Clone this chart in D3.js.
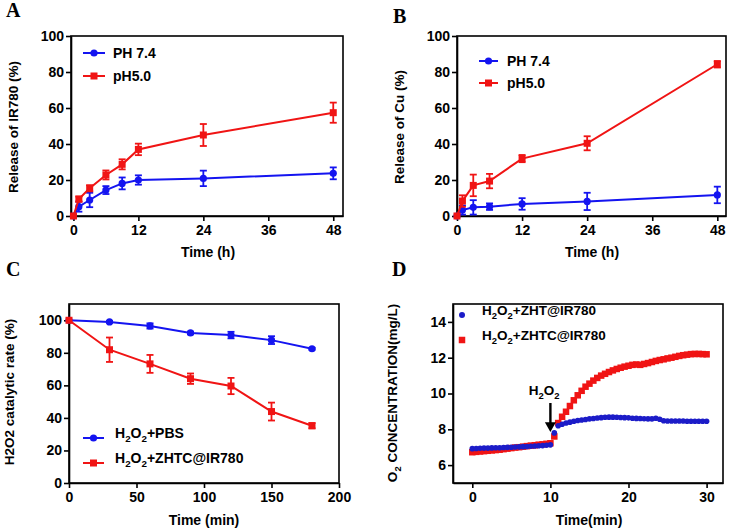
<!DOCTYPE html>
<html><head><meta charset="utf-8">
<script src="https://cdn.jsdelivr.net/npm/d3@7"></script>
<style>
body{margin:0;background:#fff}
text{font-family:"Liberation Sans",Arial,sans-serif;font-weight:bold;fill:#000}
</style>
</head><body>
<svg id="chart" width="729" height="529" xmlns="http://www.w3.org/2000/svg"></svg>
<script>
// ---------- DATA ----------
const timeA = [0, 1, 3, 6, 9, 12, 24, 48];
const irPH74 = [0, 5.2, 8.9, 14.4, 18.1, 20, 20.9, 23.7];
const irPH74Err = [0, 2.8, 4, 2.2, 3.3, 2.6, 4.3, 3.3];
const irPH50 = [0, 9.4, 15.4, 22.8, 28.7, 37, 45, 57.4];
const irPH50Err = [0, 1.4, 1.7, 2.5, 2.8, 3.2, 6.1, 5.6];

const timeB = [0, 1, 3, 6, 12, 24, 48];
const cuPH74 = [0, 3.3, 4.8, 5.2, 6.7, 8.1, 11.7];
const cuPH74Err = [0, 2.5, 4, 1.8, 3.2, 4.8, 4.6];
const cuPH50 = [0, 8.3, 17, 19.4, 31.9, 40.4, 84.3];
const cuPH50Err = [0, 3.2, 6, 4, 2, 3.9, 1.8];

const timeC = [0, 30, 60, 90, 120, 150, 180];
const catPBS = [100, 99, 96.5, 92.2, 90.9, 87.8, 82.5];
const catPBSErr = [0, 0.6, 1.6, 0.8, 2, 2.4, 0.6];
const catZHTC = [100, 81.9, 73.2, 64.1, 59.6, 43.9, 35.2];
const catZHTCErr = [0, 7.5, 5.5, 3.2, 5, 5.5, 1.6];

const timeD = [0,0.5,1,1.5,2,2.5,3,3.5,4,4.5,5,5.5,6,6.5,7,7.5,8,8.5,9,9.5,10,10.5,11,11.5,12,12.5,13,13.5,14,14.5,15,15.5,16,16.5,17,17.5,18,18.5,19,19.5,20,20.5,21,21.5,22,22.5,23,23.5,24,24.5,25,25.5,26,26.5,27,27.5,28,28.5,29,29.5,30];
const o2ZHT = [6.92,6.93,6.94,6.95,6.95,6.96,6.97,6.97,6.98,6.99,7.0,7.01,7.02,7.03,7.04,7.05,7.07,7.08,7.09,7.11,7.13,
  7.8,8.2,8.28,8.35,8.4,8.45,8.49,8.52,8.55,8.58,8.6,8.63,8.65,8.67,8.68,8.68,8.67,8.66,8.65,8.64,8.62,8.61,8.6,8.59,8.58,8.58,8.62,8.56,8.48,8.46,8.46,8.46,8.46,8.46,8.45,8.45,8.45,8.45,8.45,8.45];
const o2ZHTC = [6.72,6.74,6.76,6.78,6.8,6.82,6.84,6.86,6.89,6.92,6.95,6.98,7.0,7.03,7.06,7.09,7.11,7.14,7.16,7.19,7.22,
  7.6,8.35,8.7,8.98,9.3,9.62,9.9,10.15,10.38,10.55,10.72,10.87,11.0,11.1,11.2,11.29,11.37,11.44,11.5,11.55,11.6,11.62,11.6,11.65,11.7,11.76,11.82,11.87,11.91,11.96,12.0,12.05,12.1,12.14,12.17,12.2,12.21,12.21,12.2,12.19];

const ticksTimeH = [0, 12, 24, 36, 48];
const ticksRelease = [0, 20, 40, 60, 80, 100];
const ticksTimeMin = [0, 50, 100, 150, 200];
const ticksCat = [0, 20, 40, 60, 80, 100];
const ticksTimeD = [0, 10, 20, 30];
const ticksO2 = [6, 8, 10, 12, 14];

const BLUE = "#1414f0", RED = "#f01414", BLUE_D = "#1c1cc8";

// ---------- DRAW ----------
const svg = d3.select("#chart");

function addSub(sel, parts, size) {
  parts.forEach(([t, sub], i) => {
    const prevSub = i > 0 && parts[i - 1][1];
    const ts = sel.append("tspan").text(t);
    if (sub) ts.attr("font-size", size * 0.7).attr("dy", prevSub ? 0 : size * 0.3);
    else ts.attr("dy", prevSub ? -size * 0.3 : 0);
  });
}

function panel(o) {
  const g = svg.append("g");
  const x = d3.scaleLinear().domain(o.xd).range([o.l, o.r]);
  const y = d3.scaleLinear().domain(o.yd).range([o.b, o.t]);

  g.append("rect").attr("x", o.l).attr("y", o.t).attr("width", o.r - o.l).attr("height", o.b - o.t)
    .attr("fill", "none").attr("stroke", "#000").attr("stroke-width", 1.6);

  const xa = g.append("g").attr("transform", `translate(0,${o.b})`)
    .call(d3.axisBottom(x).tickValues(o.xt).tickSize(5).tickPadding(4).tickSizeOuter(0));
  const ya = g.append("g").attr("transform", `translate(${o.l},0)`)
    .call(d3.axisLeft(y).tickValues(o.yt).tickSize(5).tickPadding(2).tickSizeOuter(0));
  [xa, ya].forEach(a => {
    a.select(".domain").attr("stroke", "#000").attr("stroke-width", 1.6);
    a.selectAll(".tick line").attr("stroke", "#000").attr("stroke-width", 1.6);
    a.selectAll(".tick text").attr("font-size", 14).attr("font-family", "Liberation Sans, Arial, sans-serif").attr("font-weight", "bold").attr("fill", "#000");
  });

  g.append("text").attr("x", o.xtx).attr("y", o.xty).attr("text-anchor", "middle")
    .attr("font-size", 14).text(o.xtitle);
  const yt = g.append("text").attr("transform", `translate(${o.ytx},${o.yty}) rotate(-90)`)
    .attr("text-anchor", "middle").attr("dy", "0.36em").attr("font-size", 13.5);
  if (Array.isArray(o.ytitle)) addSub(yt, o.ytitle, 13.5); else yt.text(o.ytitle);

  g.append("text").attr("x", o.lx).attr("y", o.ly).attr("font-size", 20)
    .style("font-family", "Liberation Serif, Times New Roman, serif").text(o.letter);
  return { g, x, y };
}

function series(P, xs, ys, es, color, shape) {
  const { g, x, y } = P;
  const pts = xs.map((t, i) => ({ t, v: ys[i], e: es ? es[i] : 0 }));
  g.append("path").datum(pts).attr("fill", "none").attr("stroke", color).attr("stroke-width", 2)
    .attr("d", d3.line().x(d => x(d.t)).y(d => y(d.v)));
  if (es) {
    const eb = g.append("g").attr("stroke", color).attr("stroke-width", 1.8);
    pts.filter(d => d.e > 0).forEach(d => {
      const cx = x(d.t), y1 = y(d.v + d.e), y2 = y(d.v - d.e);
      eb.append("line").attr("x1", cx).attr("x2", cx).attr("y1", y1).attr("y2", y2);
      eb.append("line").attr("x1", cx - 3.5).attr("x2", cx + 3.5).attr("y1", y1).attr("y2", y1);
      eb.append("line").attr("x1", cx - 3.5).attr("x2", cx + 3.5).attr("y1", y2).attr("y2", y2);
    });
  }
  marker(g, pts.map(d => [x(d.t), y(d.v)]), color, shape, shape === "sq" ? 7 : 3.6);
}

function marker(g, list, color, shape, s) {
  list.forEach(([cx, cy]) => {
    if (shape === "sq") g.append("rect").attr("x", cx - s / 2).attr("y", cy - s / 2).attr("width", s).attr("height", s).attr("fill", color);
    else g.append("circle").attr("cx", cx).attr("cy", cy).attr("r", s).attr("fill", color);
  });
}

function legend(g, x1, x2, tx, yy, color, shape, label) {
  g.append("line").attr("x1", x1).attr("x2", x2).attr("y1", yy).attr("y2", yy).attr("stroke", color).attr("stroke-width", 2);
  marker(g, [[(x1 + x2) / 2, yy]], color, shape, shape === "sq" ? 7 : 3.6);
  const t = g.append("text").attr("x", tx).attr("y", yy).attr("dy", "0.36em").attr("font-size", 14);
  if (Array.isArray(label)) addSub(t, label, 14); else t.text(label);
}

// Panel A
const PA = panel({ l: 71, r: 343, t: 36, b: 216, xd: [-0.45, 49.8], yd: [0, 100], xt: ticksTimeH, yt: ticksRelease,
  xtitle: "Time (h)", xtx: 208, xty: 257, ytitle: "Release of IR780 (%)", ytx: 13, yty: 127, letter: "A", lx: 6, ly: 17 });
series(PA, timeA, irPH74, irPH74Err, BLUE, "c");
series(PA, timeA, irPH50, irPH50Err, RED, "sq");
legend(PA.g, 83, 105, 113, 53, BLUE, "c", "PH 7.4");
legend(PA.g, 83, 105, 113, 76, RED, "sq", "pH5.0");

// Panel B
const PB = panel({ l: 457, r: 726, t: 36, b: 216, xd: [0, 49.6], yd: [0, 100], xt: ticksTimeH, yt: ticksRelease,
  xtitle: "Time (h)", xtx: 592, xty: 257, ytitle: "Release of Cu (%)", ytx: 399, yty: 127, letter: "B", lx: 393, ly: 23 });
series(PB, timeB, cuPH74, cuPH74Err, BLUE, "c");
series(PB, timeB, cuPH50, cuPH50Err, RED, "sq");
legend(PB.g, 479, 498, 507, 61, BLUE, "c", "PH 7.4");
legend(PB.g, 479, 498, 507, 83, RED, "sq", "pH5.0");

// Panel C
const PC = panel({ l: 69, r: 339, t: 304, b: 483, xd: [0, 200], yd: [0, 110], xt: ticksTimeMin, yt: ticksCat,
  xtitle: "Time (min)", xtx: 204, xty: 525, ytitle: "H2O2 catalytic rate (%)", ytx: 9, yty: 392, letter: "C", lx: 6, ly: 276 });
series(PC, timeC, catPBS, catPBSErr, BLUE, "c");
series(PC, timeC, catZHTC, catZHTCErr, RED, "sq");
legend(PC.g, 83, 104, 115, 438, BLUE, "c", [["H", 0], ["2", 1], ["O", 0], ["2", 1], ["+PBS", 0]]);
legend(PC.g, 83, 104, 115, 463, RED, "sq", [["H", 0], ["2", 1], ["O", 0], ["2", 1], ["+ZHTC@IR780", 0]]);

// Panel D
const PD = panel({ l: 453, r: 723, t: 304, b: 483, xd: [-2.47, 32.1], yd: [5, 15], xt: ticksTimeD, yt: ticksO2,
  xtitle: "Time(min)", xtx: 589, xty: 525, ytitle: [["O", 0], ["2", 1], [" CONCENTRATION(mg/L)", 0]], ytx: 397, yty: 393,
  letter: "D", lx: 392, ly: 276 });
{
  const { g, x, y } = PD;
  marker(g, timeD.map((t, i) => [x(t), y(o2ZHTC[i])]), RED, "sq", 6.5);
  marker(g, timeD.map((t, i) => [x(t), y(o2ZHT[i])]), BLUE_D, "c", 2.8);
  marker(g, [[462, 315]], BLUE_D, "c", 3);
  marker(g, [[462, 340]], RED, "sq", 6.5);
  const t1 = g.append("text").attr("x", 482).attr("y", 315).attr("dy", "0.36em").attr("font-size", 13.5);
  addSub(t1, [["H", 0], ["2", 1], ["O", 0], ["2", 1], ["+ZHT@IR780", 0]], 13.5);
  const t2 = g.append("text").attr("x", 482).attr("y", 340).attr("dy", "0.36em").attr("font-size", 13.5);
  addSub(t2, [["H", 0], ["2", 1], ["O", 0], ["2", 1], ["+ZHTC@IR780", 0]], 13.5);
  const ta = g.append("text").attr("x", x(9.2)).attr("y", y(9.9)).attr("text-anchor", "middle").attr("font-size", 13.5);
  addSub(ta, [["H", 0], ["2", 1], ["O", 0], ["2", 1]], 13.5);
  const ax = x(10);
  g.append("line").attr("x1", ax).attr("x2", ax).attr("y1", y(9.47)).attr("y2", y(8.3)).attr("stroke", "#000").attr("stroke-width", 2.4);
  g.append("path").attr("d", `M${ax - 5.5},${y(8.4)} L${ax + 5.5},${y(8.4)} L${ax},${y(7.85)} Z`).attr("fill", "#000");
}
</script>
</body></html>
